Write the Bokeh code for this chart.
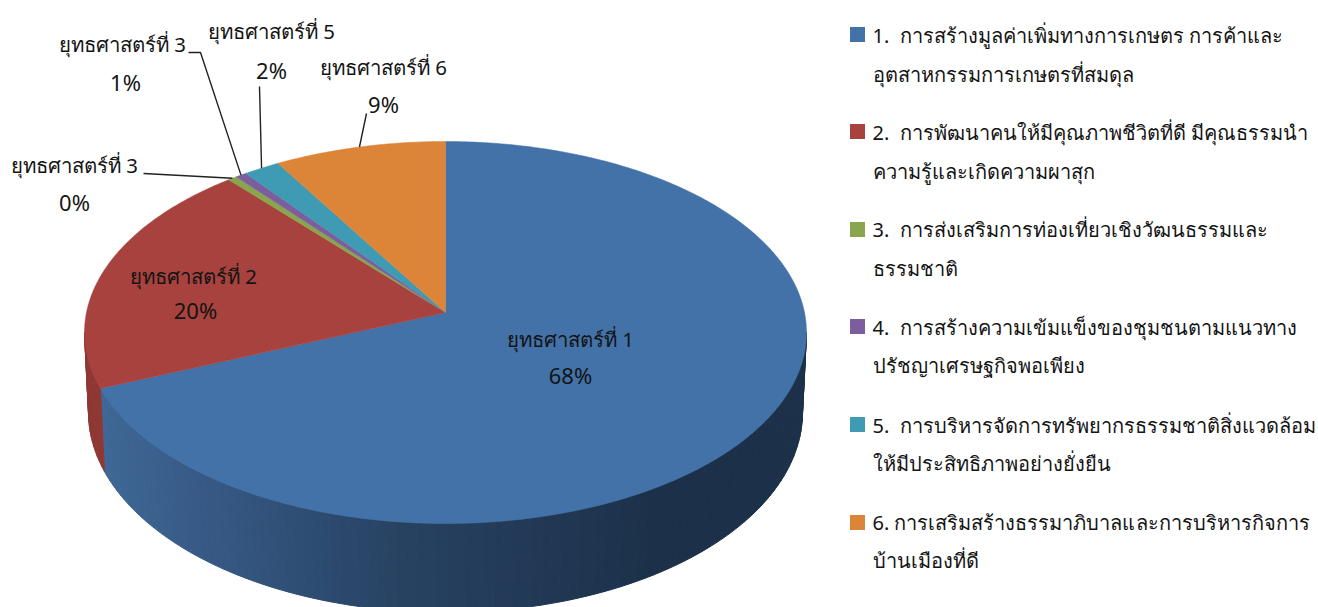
import numpy as np
from bokeh.plotting import figure
from bokeh.models import ColumnDataSource, Range1d
from bokeh.core.properties import value
from bokeh.embed import file_html
from bokeh.resources import INLINE

# ---- data
slice_names = ["ยุทธศาสตร์ที่ 1", "ยุทธศาสตร์ที่ 2", "ยุทธศาสตร์ที่ 3", "ยุทธศาสตร์ที่ 3", "ยุทธศาสตร์ที่ 5", "ยุทธศาสตร์ที่ 6"]
slice_shares = [68.7, 20.0, 0.45, 0.55, 1.8, 8.5]
slice_labels = ["68%", "20%", "0%", "1%", "2%", "9%"]
slice_colors = ["#4272a8", "#a8423e", "#89a54e", "#7c5e9f", "#3f9ab4", "#dc8539"]
legend_line1 = ["1.\u00a0\u00a0การสร้างมูลค่าเพิ่มทางการเกษตร การค้าและ",
                "2.\u00a0\u00a0การพัฒนาคนให้มีคุณภาพชีวิตที่ดี มีคุณธรรมนำ",
                "3.\u00a0\u00a0การส่งเสริมการท่องเที่ยวเชิงวัฒนธรรมและ",
                "4.\u00a0\u00a0การสร้างความเข้มแข็งของชุมชนตามแนวทาง",
                "5.\u00a0\u00a0การบริหารจัดการทรัพยากรธรรมชาติสิ่งแวดล้อม",
                "6. การเสริมสร้างธรรมาภิบาลและการบริหารกิจการ"]
legend_line2 = ["อุตสาหกรรมการเกษตรที่สมดุล", "ความรู้และเกิดความผาสุก", "ธรรมชาติ",
                "ปรัชญาเศรษฐกิจพอเพียง", "ให้มีประสิทธิภาพอย่างยั่งยืน", "บ้านเมืองที่ดี"]

# ---- layout (page pixels of the reference)
FONT = "Noto Sans"
TEXT = "#141414"
CX = 445.0
TOP = dict(a=359.0, b=188.9, c=312.0, k=0.1047)
BOT = dict(a=355.0, b=197.8, c=391.0, k=0.1047)
label_xy = [(570, 338, 570, 374), (193, 275, 195, 309), (74, 164, 74, 201),
            (122, 43, 125, 81), (271, 30, 271, 69), (383, 66, 383, 103)]
elbows = {2: [(143, 173)], 3: [(188, 52), (200, 52)], 4: [(259, 86)], 5: [(366, 113)]}
legend_sq_y = [34, 131, 229, 326, 424, 522]
legend_y1 = [35, 132, 229, 327, 425, 522]
legend_y2 = [74, 171, 268, 365, 463, 560]
side_stops_x = [90, 200, 300, 400, 560, 660, 810]
side_stops = [(64, 106, 152), (56, 90, 134), (47, 78, 116), (40, 66, 98), (33, 56, 84), (28, 49, 73), (28, 49, 73)]
red_side = "#8f3733"


def rim(theta, g):
    X, Y = np.sin(theta), -np.cos(theta)
    d = 1 - g["k"] * Y
    return CX + g["a"] * X / d, g["c"] + g["b"] * Y / d


p = figure(width=1318, height=607, output_backend="svg", toolbar_location=None,
           x_range=Range1d(0, 1318), y_range=Range1d(607, 0), min_border=0,
           outline_line_color=None, background_fill_color="white", border_fill_color="white")
p.xaxis.visible = False
p.yaxis.visible = False
p.grid.visible = False

shares = np.array(slice_shares) / sum(slice_shares)
edges = np.concatenate([[0], np.cumsum(shares)]) * 2 * np.pi

# side wall, front part only
t_right, t_left = np.radians(96), np.radians(264)
ts = np.linspace(t_right, t_left, 121)
xs, ys, cs = [], [], []
for t0, t1 in zip(ts[:-1], ts[1:]):
    x0, y0 = rim(t0, TOP); x1, y1 = rim(t1, TOP)
    bx0, by0 = rim(t0, BOT); bx1, by1 = rim(t1, BOT)
    xs.append([x0, x1, bx1, bx0]); ys.append([y0, y1, by1, by0])
    tm = (t0 + t1) / 2
    if tm > edges[1]:
        cs.append(red_side)
    else:
        mx = (x0 + x1) / 2
        rgb = [int(np.interp(mx, side_stops_x, [s[i] for s in side_stops])) for i in range(3)]
        cs.append("#%02x%02x%02x" % tuple(rgb))
p.patches(xs="xs", ys="ys", fill_color="cs", line_color="cs", line_width=1,
          source=ColumnDataSource(dict(xs=xs, ys=ys, cs=cs)))

# top face
for i in range(len(shares)):
    n = max(3, int((edges[i + 1] - edges[i]) * 80))
    t = np.linspace(edges[i], edges[i + 1], n)
    x, y = rim(t, TOP)
    p.patch(np.r_[CX, x], np.r_[TOP["c"], y], fill_color=slice_colors[i], line_color=slice_colors[i], line_width=0.5)

# leader lines
for i, pts in elbows.items():
    mid = (edges[i] + edges[i + 1]) / 2
    ax, ay = rim(mid, TOP)
    p.line([q[0] for q in pts] + [ax], [q[1] for q in pts] + [ay], line_color="#222222", line_width=1.4)

# slice labels
for i, (x1, y1, x2, y2) in enumerate(label_xy):
    p.text([x1], [y1], text=[slice_names[i]], text_font=value(FONT), text_font_size="20.4px",
           text_color=TEXT, text_align="center", text_baseline="middle")
    p.text([x2], [y2], text=[slice_labels[i]], text_font=value(FONT), text_font_size="22px",
           text_color=TEXT, text_align="center", text_baseline="middle")

# legend
p.scatter([857] * 6, legend_sq_y, marker="square", size=15, fill_color=slice_colors, line_color=None)
p.text([872] * 6, legend_y1, text=legend_line1, text_font=value(FONT), text_font_size="20px",
       text_color=TEXT, text_align="left", text_baseline="middle")
p.text([872] * 6, legend_y2, text=legend_line2, text_font=value(FONT), text_font_size="20px",
       text_color=TEXT, text_align="left", text_baseline="middle")

open("out.html", "w").write(file_html(p, INLINE))
